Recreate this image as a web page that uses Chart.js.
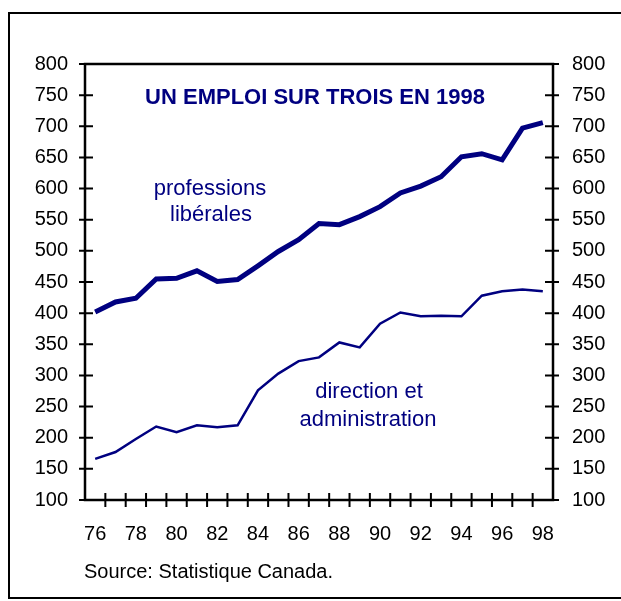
<!DOCTYPE html>
<html>
<head>
<meta charset="utf-8">
<script src="https://cdn.jsdelivr.net/npm/chart.js@4.4.1/dist/chart.umd.min.js"></script>
<style>
  html, body { margin: 0; padding: 0; background: #fff; }
  #wrap { width: 621px; height: 601px; position: relative; }
</style>
</head>
<body>
<div id="wrap"><canvas id="emploiChart" width="621" height="601"></canvas></div>
<script>
const years = ['76', '77', '78', '79', '80', '81', '82', '83', '84', '85', '86', '87',
               '88', '89', '90', '91', '92', '93', '94', '95', '96', '97', '98'];
const professions = [402, 418, 424, 455, 456, 468, 451, 454, 476, 499, 518, 544,
                     542, 555, 571, 593, 604, 619, 651, 656, 646, 697, 706];
const direction = [166, 177, 198, 218, 209, 220, 217, 220, 276, 303, 323, 329,
                   353, 345, 383, 401, 395, 396, 395, 428, 435, 438, 435];
const yMin = 100, yMax = 800, yStep = 50;

const NAVY = '#000080';
const FONT = '"Liberation Sans", Arial, sans-serif';

// box around the plot, crossing tick marks, frame and texts
const decor = {
    id: 'decor',
    afterDraw(chart) {
        const ctx = chart.ctx;
        const a = chart.chartArea;
        const x = chart.scales.x;
        const y = chart.scales.y;
        ctx.save();
        ctx.strokeStyle = '#000';
        ctx.lineWidth = 2.5;
        ctx.strokeRect(a.left, a.top, a.right - a.left, a.bottom - a.top);

        ctx.lineWidth = 2;
        ctx.beginPath();
        for (let v = yMin; v <= yMax; v += yStep) {
            const py = y.getPixelForValue(v);
            ctx.moveTo(a.left - 6, py); ctx.lineTo(a.left + (v === yMax ? 0 : 8), py);
            ctx.moveTo(a.right - (v === yMax ? 0 : 8), py); ctx.lineTo(a.right + 6, py);
        }
        for (let i = 0; i < years.length - 1; i++) {
            const px = x.getPixelForValue(i + 0.5);
            ctx.moveTo(px, a.bottom - 7); ctx.lineTo(px, a.bottom + 7);
        }
        ctx.stroke();

        // outer frame
        ctx.lineWidth = 2;
        ctx.strokeRect(9, 13, 640, 585);

        ctx.fillStyle = NAVY;
        ctx.textAlign = 'center';
        ctx.textBaseline = 'alphabetic';
        ctx.font = 'bold 22px ' + FONT;
        ctx.fillText('UN EMPLOI SUR TROIS EN 1998', 315, 104);
        ctx.font = '22px ' + FONT;
        ctx.fillText('professions', 210, 195);
        ctx.fillText('libérales', 211, 221);
        ctx.fillText('direction et', 369, 398);
        ctx.fillText('administration', 368, 426);

        ctx.fillStyle = '#000';
        ctx.textAlign = 'left';
        ctx.font = '20px ' + FONT;
        ctx.fillText('Source: Statistique Canada.', 84, 578);
        ctx.restore();
    }
};

function yAxis(side, width, pad) {
    return {
        position: side,
        min: yMin, max: yMax,
        grid: { display: false, drawTicks: false },
        border: { display: false },
        ticks: { stepSize: yStep, padding: pad, color: '#000', font: { family: FONT, size: 20 } },
        afterFit: function (s) { s.width = width; }
    };
}

const ctx = document.getElementById('emploiChart').getContext('2d');
const chart = new Chart(ctx, {
    type: 'line',
    data: {
        labels: years,
        datasets: [{
            label: 'professions libérales',
            data: professions,
            borderColor: NAVY,
            borderWidth: 5,
            pointRadius: 0,
            tension: 0,
            yAxisID: 'y'
        }, {
            label: 'direction et administration',
            data: direction,
            borderColor: NAVY,
            borderWidth: 2.5,
            pointRadius: 0,
            tension: 0,
            yAxisID: 'y'
        }]
    },
    options: {
        responsive: false,
        animation: false,
        layout: { padding: { top: 64, left: 0, right: 0, bottom: 0 } },
        scales: {
            x: {
                type: 'category',
                offset: true,
                grid: { display: false, drawTicks: false },
                border: { display: false },
                ticks: {
                    autoSkip: false,
                    maxRotation: 0,
                    padding: 22,
                    color: '#000',
                    font: { family: FONT, size: 20 },
                    callback: function (val, i) { return i % 2 === 0 ? years[i] : ''; }
                },
                afterFit: function (s) { s.height = 101; }
            },
            y: yAxis('left', 85, 17),
            y2: yAxis('right', 68, 19)
        },
        plugins: {
            legend: { display: false },
            tooltip: { enabled: false }
        }
    },
    plugins: [decor]
});
</script>
</body>
</html>
